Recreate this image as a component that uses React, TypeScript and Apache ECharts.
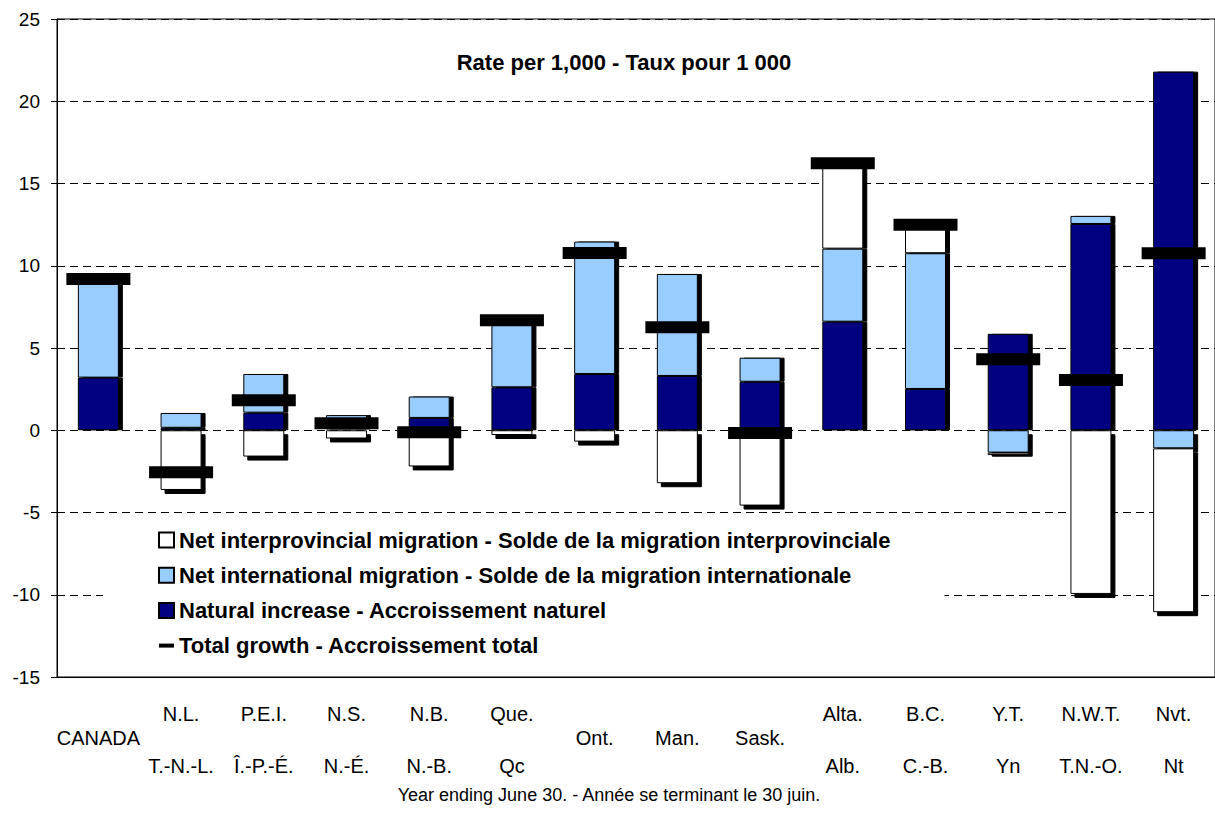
import React, { useEffect, useRef } from 'react';
import * as echarts from 'echarts';

const categories = ['CANADA', 'N.L.', 'P.E.I.', 'N.S.', 'N.B.', 'Que.', 'Ont.', 'Man.', 'Sask.', 'Alta.', 'B.C.', 'Y.T.', 'N.W.T.', 'Nvt.'];
const labelTop = ['', 'N.L.', 'P.E.I.', 'N.S.', 'N.B.', 'Que.', '', '', '', 'Alta.', 'B.C.', 'Y.T.', 'N.W.T.', 'Nvt.'];
const labelMid = ['CANADA', '', '', '', '', '', 'Ont.', 'Man.', 'Sask.', '', '', '', '', ''];
const labelBottom = ['', 'T.-N.-L.', 'Î.-P.-É.', 'N.-É.', 'N.-B.', 'Qc', '', '', '', 'Alb.', 'C.-B.', 'Yn', 'T.N.-O.', 'Nt'];

const naturalIncrease = [3.2, 0.15, 1.07, 0.05, 0.75, 2.61, 3.42, 3.3, 2.95, 6.6, 2.51, 5.86, 12.54, 21.8];
const internationalMigration = [6.0, 0.9, 2.35, 0.87, 1.3, 4.37, 8.05, 6.2, 1.46, 4.44, 8.25, -1.36, 0.49, -1.1];
const interprovincialMigration: (number | null)[] = [null, -3.63, -1.6, -0.5, -2.2, -0.29, -0.69, -3.22, -4.58, 5.19, 1.74, -0.15, -9.95, -9.96];
const totalGrowth = [9.2, -2.55, 1.82, 0.42, -0.12, 6.69, 10.78, 6.26, -0.17, 16.23, 12.5, 4.32, 3.06, 10.76];

const yMin = -15;
const yMax = 25;
const yStep = 5;

const seriesNames = {
  interprov: 'Net interprovincial migration - Solde de la migration interprovinciale',
  intl: 'Net international migration - Solde de la migration internationale',
  natural: 'Natural increase - Accroissement naturel',
  total: 'Total growth - Accroissement total',
};
const titleText = 'Rate per 1,000 - Taux pour 1 000';
const footerText = 'Year ending June 30. - Année se terminant le 30 juin.';

export default function App() {
  const ref = useRef<HTMLDivElement>(null);
  useEffect(() => {
    if (!ref.current) return;
    const chart = echarts.init(ref.current, null, { renderer: 'svg' });
    const font = "'Liberation Sans', Arial, Helvetica, sans-serif";
    const shadowed = (vals: (number | null)[]) =>
      vals.map((v) =>
        v == null
          ? '-'
          : {
              value: v,
              itemStyle: {
                shadowColor: '#000',
                shadowBlur: 0,
                shadowOffsetX: 4,
                shadowOffsetY: v < 0 ? 4 : 0,
              },
            }
      );
    const barBase = {
      type: 'bar',
      stack: 'growth',
      barWidth: 41,
      z: 2,
    };
    const option: any = {
      animation: false,
      backgroundColor: '#fff',
      textStyle: { fontFamily: font },
      grid: {
        left: 57,
        top: 19,
        width: 1162,
        height: 658,
        show: true,
        borderColor: '#000',
        borderWidth: 1,
        backgroundColor: 'transparent',
      },
      xAxis: {
        type: 'category',
        data: categories,
        axisLine: { onZero: false, lineStyle: { color: '#000', width: 1 } },
        axisTick: { show: false },
        splitLine: { show: false },
        axisLabel: {
          interval: 0,
          margin: 25,
          formatter: (_v: string, i: number) =>
            `{a|${labelTop[i] || ' '}}\n{b|${labelMid[i] || ' '}}\n{c|${labelBottom[i] || ' '}}`,
          rich: {
            a: { fontSize: 20, lineHeight: 24, fontFamily: font, color: '#000' },
            b: { fontSize: 20, lineHeight: 23, fontFamily: font, color: '#000' },
            c: { fontSize: 20, lineHeight: 34, fontFamily: font, color: '#000' },
          },
        },
      },
      yAxis: {
        type: 'value',
        min: yMin,
        max: yMax,
        interval: yStep,
        axisLine: { show: true, lineStyle: { color: '#000', width: 1 } },
        axisTick: { show: true, length: 6, lineStyle: { color: '#000' } },
        axisLabel: { fontSize: 19, color: '#000', margin: 17, fontFamily: font },
        splitLine: { show: true, lineStyle: { color: '#000', width: 1, type: [8, 5] } },
      },
      legend: {
        orient: 'vertical',
        left: 103,
        top: 520,
        padding: [9, 54, 9, 55],
        backgroundColor: '#fff',
        itemWidth: 15,
        itemHeight: 15,
        itemGap: 13.2,
        selectedMode: false,
        icon: 'rect',
        textStyle: { fontSize: 22, fontWeight: 'bold', color: '#000', lineHeight: 22, fontFamily: font },
        data: [
          { name: seriesNames.interprov },
          { name: seriesNames.intl },
          { name: seriesNames.natural },
          { name: seriesNames.total, icon: 'path://M0,0H15V4H0Z' },
        ],
        z: 5,
      },
      series: [
        {
          ...barBase,
          name: seriesNames.natural,
          itemStyle: { color: '#000080', borderColor: '#000', borderWidth: 1 },
          data: shadowed(naturalIncrease),
        },
        {
          ...barBase,
          name: seriesNames.intl,
          itemStyle: { color: '#99CCFF', borderColor: '#000', borderWidth: 1 },
          data: shadowed(internationalMigration),
        },
        {
          ...barBase,
          name: seriesNames.interprov,
          itemStyle: { color: '#FFFFFF', borderColor: '#000', borderWidth: 1 },
          data: shadowed(interprovincialMigration),
        },
        {
          type: 'scatter',
          name: seriesNames.total,
          symbol: 'rect',
          symbolSize: [64, 12],
          itemStyle: { color: '#000', opacity: 1 },
          z: 4,
          data: totalGrowth,
        },
      ],
      graphic: [
        {
          type: 'text',
          x: 624,
          y: 62.5,
          z: 10,
          style: {
            text: titleText,
            fontSize: 22,
            fontWeight: 'bold',
            fontFamily: font,
            fill: '#000',
            align: 'center',
            verticalAlign: 'middle',
          },
        },
        {
          type: 'text',
          x: 609,
          y: 795,
          z: 10,
          style: {
            text: footerText,
            fontSize: 18,
            fontFamily: font,
            fill: '#000',
            align: 'center',
            verticalAlign: 'middle',
          },
        },
      ],
    };
    chart.setOption(option);
    return () => chart.dispose();
  }, []);
  return (
    <div
      ref={ref}
      style={{ position: 'fixed', left: 0, top: 0, width: 1215, height: 817, background: '#fff' }}
    />
  );
}
